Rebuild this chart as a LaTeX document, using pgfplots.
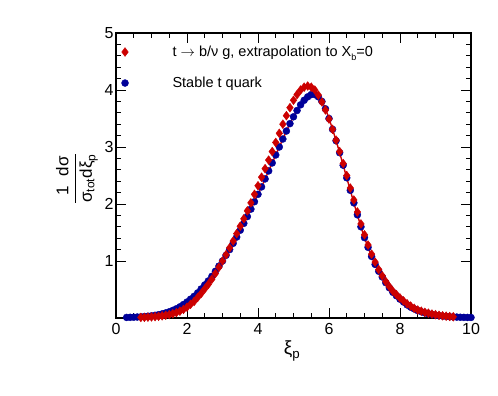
\documentclass[border=0pt]{standalone}
\usepackage{pgfplots}
\usepackage{pgfplotstable}
\usepackage{amsmath}
\pgfplotsset{compat=1.18}
\usepackage{fontspec}
\setmainfont{Liberation Sans}
\definecolor{rootred}{RGB}{204,0,0}
\definecolor{rootblue}{RGB}{0,0,153}

% stable t quark
\pgfplotstableread{
x y
0.3 0.010
0.4 0.012
0.5 0.014
0.6 0.017
0.7 0.020
0.8 0.025
0.9 0.031
1.0 0.038
1.1 0.047
1.2 0.058
1.3 0.072
1.4 0.089
1.5 0.109
1.6 0.133
1.7 0.162
1.8 0.196
1.9 0.236
2.0 0.28
2.1 0.33
2.2 0.38
2.3 0.44
2.4 0.51
2.5 0.58
2.6 0.65
2.7 0.73
2.8 0.82
2.9 0.91
3.0 1.00
3.1 1.10
3.2 1.20
3.3 1.31
3.4 1.42
3.5 1.54
3.6 1.66
3.7 1.78
3.8 1.91
3.9 2.04
4.0 2.17
4.1 2.30
4.2 2.44
4.3 2.58
4.4 2.72
4.5 2.86
4.6 3.00
4.7 3.14
4.8 3.28
4.9 3.41
5.0 3.53
5.1 3.64
5.2 3.74
5.3 3.82
5.4 3.88
5.5 3.92
5.6 3.92
5.7 3.88
5.8 3.80
5.9 3.67
6.0 3.50
6.1 3.31
6.2 3.11
6.3 2.90
6.4 2.68
6.5 2.46
6.6 2.24
6.7 2.02
6.8 1.81
6.9 1.60
7.0 1.41
7.1 1.24
7.2 1.08
7.3 0.94
7.4 0.82
7.5 0.72
7.6 0.62
7.7 0.53
7.8 0.45
7.9 0.39
8.0 0.33
8.1 0.28
8.2 0.23
8.3 0.19
8.4 0.16
8.5 0.13
8.6 0.11
8.7 0.09
8.8 0.075
8.9 0.062
9.0 0.050
9.1 0.041
9.2 0.034
9.3 0.028
9.4 0.023
9.5 0.019
9.6 0.016
9.7 0.013
9.8 0.011
9.9 0.010
10.0 0.009
}\stabledata

% t -> b/nu g, extrapolation
\pgfplotstableread{
x y
0.7 0.010
0.8 0.012
0.9 0.015
1.0 0.019
1.1 0.024
1.2 0.030
1.3 0.038
1.4 0.048
1.5 0.060
1.6 0.075
1.7 0.094
1.8 0.12
1.9 0.15
2.0 0.19
2.1 0.24
2.2 0.29
2.3 0.36
2.4 0.43
2.5 0.51
2.6 0.59
2.7 0.68
2.8 0.78
2.9 0.89
3.0 1.00
3.1 1.11
3.2 1.23
3.3 1.35
3.4 1.48
3.5 1.61
3.6 1.74
3.7 1.88
3.8 2.02
3.9 2.17
4.0 2.32
4.1 2.47
4.2 2.62
4.3 2.77
4.4 2.92
4.5 3.08
4.6 3.24
4.7 3.40
4.8 3.55
4.9 3.69
5.0 3.82
5.1 3.92
5.2 4.00
5.3 4.05
5.4 4.07
5.5 4.05
5.6 4.00
5.7 3.91
5.8 3.79
5.9 3.65
6.0 3.49
6.1 3.31
6.2 3.12
6.3 2.92
6.4 2.71
6.5 2.50
6.6 2.28
6.7 2.07
6.8 1.86
6.9 1.65
7.0 1.46
7.1 1.28
7.2 1.12
7.3 0.98
7.4 0.85
7.5 0.74
7.6 0.64
7.7 0.55
7.8 0.47
7.9 0.41
8.0 0.35
8.1 0.30
8.2 0.25
8.3 0.21
8.4 0.17
8.5 0.14
8.6 0.12
8.7 0.10
8.8 0.085
8.9 0.070
9.0 0.058
9.1 0.048
9.2 0.039
9.3 0.032
9.4 0.026
9.5 0.021
}\extrapdata

\begin{document}
\begin{tikzpicture}[x=1pt,y=1pt]
\useasboundingbox (0,0) rectangle (498,396);
\begin{axis}[
  at={(116pt,78pt)}, anchor=south west,
  scale only axis, width=355pt, height=285pt,
  xmin=0, xmax=10, ymin=0, ymax=5,
  xtick={0,2,...,10}, ytick={1,2,3,4,5},
  minor x tick num=3, minor y tick num=4,
  tick align=inside, major tick length=10pt, minor tick length=5pt,
  axis line style={line width=1.1pt},
  every tick/.style={black, line width=0.9pt},
  /pgf/number format/assume math mode=true,
  tick label style={font=\fontsize{16}{19}\selectfont},
  xticklabel style={yshift=-2pt},
  yticklabel style={xshift=1pt},
  xlabel={$\text{ξ}_{\text{p}}$},
  xlabel style={font=\fontsize{19}{22}\selectfont, at={(axis description cs:0.496,-0.115)}, anchor=center},
  ylabel={\nulldelimiterspace=0pt$\displaystyle\frac{\text{1}\rule[-2pt]{0pt}{2pt}}{\rule{0pt}{10pt}\text{σ}_{\scriptstyle\text{tot}}}\frac{\text{dσ}\rule[-2pt]{0pt}{2pt}}{\rule{0pt}{10pt}\text{dξ}_{\scriptstyle\text{p}}}$},
  ylabel style={font=\fontsize{17}{20}\selectfont, rotate=0, at={(axis description cs:-0.11,0.49)}, anchor=center},
  legend style={at={(axis description cs:0.015,0.962)}, anchor=north west, draw=none, fill=none,
    inner sep=0pt, font=\fontsize{14.5}{17}\selectfont, row sep=15pt,
    /tikz/every odd column/.append style={column sep=42pt}},
  legend cell align=left,
  legend image code/.code={\draw[#1] plot coordinates {(0pt,0pt)};},
  reverse legend,
]
\addplot[only marks, mark=*, mark size=3.5pt, color=rootblue] table {\stabledata};
\addlegendentry{Stable t quark}
\addplot[forget plot, rootred, line width=1.4pt, smooth] table {\stabledata};
\addplot[only marks, mark=diamond*, mark size=4.4pt, color=rootred] table {\extrapdata};
\addlegendentry{t $\rightarrow$ b/ν g, extrapolation to X\raisebox{-0.55ex}{\fontsize{9}{9}\selectfont b}=0}
\end{axis}
\end{tikzpicture}
\end{document}
